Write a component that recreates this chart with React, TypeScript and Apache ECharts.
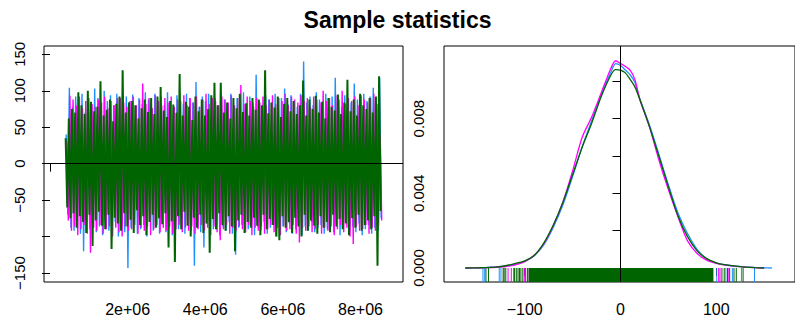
import React, { useEffect, useRef } from "react";
import * as echarts from "echarts";

// ---------- data ----------
const TITLE = "Sample statistics";

// trace plot: iteration span and local extremes (alternating high / low) per chain
const ITER_START = 404000;
const ITER_END = 8546000;

const greenHi = [35, 62, 75, 70, 98, 80, 68, 100, 85, 72, 78, 113, 66, 74, 88, 58, 82, 92, 128, 70,
  84, 86, 80, 62, 76, 88, 71, 90, 68, 92, 105, 73, 64, 86, 81, 70, 123, 66, 85, 78,
  60, 92, 72, 88, 66, 75, 94, 111, 80, 111, 70, 84, 62, 90, 76, 96, 71, 83, 66, 90,
  74, 88, 80, 128, 69, 84, 77, 92, 64, 82, 90, 72, 86, 68, 80, 114, 66, 88, 75, 93,
  70, 85, 62, 90, 78, 73, 95, 68, 84, 115, 72, 88, 66, 96, 80, 75, 90, 70, 92, 120];
const greenLo = [-60, -75, -68, -88, -72, -80, -95, -70, -113, -78, -66, -85, -90, -70, -117, -74, -82, -92, -68, -86,
  -77, -95, -64, -84, -72, -98, -80, -70, -88, -75, -83, -68, -115, -79, -135, -72, -90, -66, -85, -100,
  -74, -88, -70, -95, -82, -122, -76, -90, -68, -84, -92, -72, -86, -120, -78, -70, -95, -80, -88, -74,
  -85, -98, -70, -90, -76, -84, -100, -105, -72, -88, -80, -95, -74, -86, -100, -70, -92, -78, -85, -96,
  -72, -88, -80, -94, -70, -86, -76, -90, -82, -98, -75, -88, -70, -92, -84, -78, -90, -72, -140, -65];
const blueHi = [40, 104, 78, 92, 85, 96, 70, 88, 82, 103, 90, 75, 100, 86, 94, 80, 96, 84, 72, 92,
  85, 95, 78, 90, 82, 98, 88, 76, 96, 84, 92, 80, 98, 86, 74, 94, 88, 82, 96, 90,
  84, 112, 78, 92, 86, 96, 80, 90, 76, 94, 88, 82, 96, 78, 90, 86, 98, 80, 92, 84,
  122, 86, 78, 94, 88, 80, 96, 84, 90, 103, 82, 94, 86, 78, 96, 140, 84, 92, 80, 98,
  88, 84, 96, 80, 92, 118, 86, 78, 94, 90, 84, 110, 88, 82, 96, 86, 92, 104, 80, 118];
const blueLo = [-70, -88, -92, -80, -96, -120, -84, -90, -78, -94, -86, -98, -82, -92, -88, -80, -100, -86, -94, -143,
  -88, -82, -96, -90, -84, -100, -78, -92, -86, -96, -82, -94, -88, -98, -80, -90, -86, -96, -84, -92,
  -140, -88, -94, -115, -82, -96, -90, -84, -98, -86, -92, -80, -96, -125, -88, -84, -94, -90, -82, -98,
  -86, -92, -80, -96, -88, -84, -100, -90, -86, -94, -82, -96, -90, -84, -98, -86, -92, -80, -94, -88,
  -84, -96, -90, -82, -94, -86, -98, -88, -80, -92, -86, -94, -82, -98, -90, -84, -96, -88, -92, -75];
const magentaHi = [30, 93, 88, 80, 92, 76, 86, 90, 82, 78, 88, 84, 92, 76, 86, 80, 90, 90, 84, 78,
  86, 92, 80, 88, 110, 82, 90, 76, 94, 86, 80, 90, 84, 92, 78, 88, 86, 94, 80, 90,
  84, 92, 78, 88, 96, 82, 90, 86, 80, 92, 88, 84, 94, 80, 90, 108, 82, 92, 86, 78,
  90, 84, 92, 80, 88, 94, 82, 90, 86, 96, 80, 92, 88, 84, 94, 86, 90, 78, 92, 88,
  84, 100, 86, 90, 80, 94, 88, 100, 82, 90, 86, 92, 80, 94, 88, 84, 90, 96, 82, 40];
const magentaLo = [-78, -92, -86, -98, -90, -84, -96, -122, -88, -92, -84, -96, -90, -86, -100, -88, -94, -100, -86, -92,
  -90, -84, -96, -88, -92, -86, -98, -90, -84, -94, -88, -92, -86, -96, -90, -84, -94, -88, -92, -86,
  -96, -90, -84, -92, -88, -98, -86, -94, -105, -90, -84, -96, -88, -92, -86, -90, -94, -84, -98, -88,
  -92, -86, -96, -90, -84, -94, -88, -98, -86, -92, -90, -84, -96, -108, -88, -92, -86, -94, -90, -84,
  -96, -88, -92, -86, -98, -90, -84, -94, -88, -100, -110, -86, -92, -90, -84, -96, -88, -92, -86, -78];

// density plot (values x 1e-3)
const densX = [-162, -150, -140, -130, -120, -110, -100, -90, -80, -70, -60, -50, -40, -30, -20, -10, -5, 0, 5, 10, 15, 20,
  30, 40, 50, 60, 70, 80, 90, 100, 110, 120, 130, 140, 150, 158];
const densBlue = [0, 0.01, 0.03, 0.06, 0.1, 0.18, 0.35, 0.66, 1.25, 2.2, 3.4, 4.9, 6.5, 7.9, 9.3, 10.5, 10.95, 10.85, 10.6, 10.35, 9.95, 9.1,
  7.7, 6.1, 4.45, 2.95, 1.85, 1.0, 0.5, 0.27, 0.16, 0.1, 0.06, 0.03, 0.01, 0];
const densMagenta = [0, 0.01, 0.02, 0.04, 0.08, 0.17, 0.34, 0.68, 1.3, 2.3, 3.55, 5.2, 7.0, 8.1, 9.4, 10.7, 11.1, 10.95, 10.8, 10.6, 10.1, 9.05,
  7.6, 5.8, 4.2, 2.75, 1.45, 0.78, 0.42, 0.25, 0.15, 0.09, 0.05, 0.02, 0, null];
const densGreen = [0, 0.01, 0.02, 0.05, 0.12, 0.24, 0.38, 0.68, 1.35, 2.32, 3.54, 5.0, 6.47, 7.77, 9.2, 10.34, 10.63, 10.6, 10.45, 10.1, 9.7, 9.05,
  7.6, 6.0, 4.35, 2.8, 1.68, 0.92, 0.5, 0.28, 0.17, 0.1, 0.05, 0.02, 0, null];

// rug marks
const blueRug = [-143.6, -141.8, -126.6, -124.8, 100.5, 110, 116.8, 126.3, 139.9];
const magentaRug = [-117.4, -114, -111.6, -100.4, -95.3, 102.5, 103.9, 112.5];
const greenRug = [-140.5, -137.8, -122.5, -121.5, -119.8, -110.6, -108.8, -107, -105.5, -104, -102, -99, -97,
  105.9, 108.3, 111.7, 114, 118.5, 120.9, 128];
const greenRugDense = [-96, 97];

// axis ticks / labels
const traceXTicks = [0, 2e6, 4e6, 6e6, 8e6];
const traceXLabels = [2e6, 4e6, 6e6, 8e6];
const traceYTicks = [-150, -100, -50, 0, 50, 100, 150];
const traceYLabels = [-150, -50, 0, 50, 100, 150];
const densXTicks = [-100, 0, 100];
const densYTicks = [0, 0.002, 0.004, 0.006, 0.008, 0.01];
const densYLabels = [0, 0.004, 0.008];

const BLUE = "#1E90FF";
const MAGENTA = "#FF00FF";
const GREEN = "#006400";
const FONT = "Liberation Sans, Arial, Helvetica, sans-serif";

const TRACE_YMIN = -162.3;
const TRACE_YMAX = 161.4;
const DENS_YMIN = -0.00075;
const DENS_YMAX = 0.01189;

function interleave(hi: number[], lo: number[]) {
  const out: number[] = [];
  for (let i = 0; i < hi.length; i++) {
    out.push(hi[i], lo[i]);
  }
  return out;
}

function traceData(vals: number[], off: number) {
  const step = (ITER_END - ITER_START) / (vals.length - 1 + 0.67);
  return vals.map((v, k) => [ITER_START + (k + off) * step, v]);
}

function minusFmt(v: number) {
  return v < 0 ? "\u2212" + Math.abs(v) : String(v);
}

function rugSeries(values: number[], color: string) {
  return {
    type: "custom",
    xAxisIndex: 1,
    yAxisIndex: 1,
    silent: true,
    data: values.map((v) => [v]),
    renderItem: (params: any, api: any) => {
      const x = api.value(0);
      const p0 = api.coord([x, 0]);
      const p1 = api.coord([x, DENS_YMIN]);
      return {
        type: "line",
        shape: { x1: p0[0], y1: p0[1], x2: p1[0], y2: p1[1] },
        style: { stroke: color, lineWidth: 1 },
      };
    },
  };
}

export default function App() {
  const ref = useRef<HTMLDivElement>(null);

  useEffect(() => {
    document.body.style.margin = "0";
    if (!ref.current) return;
    const chart = echarts.init(ref.current, null, { renderer: "svg" });

    const axisLabelBase = { color: "#000", fontFamily: FONT };
    const tickBase = { show: true, inside: false, length: 8, lineStyle: { color: "#000", width: 1 } };

    const option: any = {
      animation: false,
      backgroundColor: "#fff",
      title: {
        text: TITLE,
        left: "center",
        top: 3,
        textStyle: { fontSize: 23, fontWeight: "bold", color: "#000", fontFamily: FONT },
      },
      grid: [
        { left: 44, top: 46, width: 359, height: 236, show: true, borderColor: "#000", borderWidth: 1, backgroundColor: "transparent" },
        { left: 444, top: 46, width: 360, height: 236, show: true, borderColor: "#000", borderWidth: 1, backgroundColor: "transparent" },
      ],
      xAxis: [
        {
          type: "value",
          gridIndex: 0,
          min: -154000,
          max: 9094000,
          axisLine: { show: false },
          splitLine: { show: false },
          axisTick: { ...tickBase, customValues: traceXTicks },
          axisLabel: {
            ...axisLabelBase,
            fontSize: 16,
            margin: 19,
            customValues: traceXLabels,
            formatter: (v: number) => Math.round(v / 1e6) + "e+06",
          },
        },
        {
          type: "value",
          gridIndex: 1,
          min: -184.3,
          max: 182.2,
          axisLine: { show: false },
          splitLine: { show: false },
          axisTick: { ...tickBase, customValues: densXTicks },
          axisLabel: {
            ...axisLabelBase,
            fontSize: 16,
            margin: 19,
            customValues: densXTicks,
            formatter: (v: number) => minusFmt(v),
          },
        },
      ],
      yAxis: [
        {
          type: "value",
          gridIndex: 0,
          min: TRACE_YMIN,
          max: TRACE_YMAX,
          axisLine: { show: false },
          splitLine: { show: false },
          axisTick: { ...tickBase, customValues: traceYTicks },
          axisLabel: {
            ...axisLabelBase,
            fontSize: 15,
            rotate: 90,
            margin: 17,
            customValues: traceYLabels,
            formatter: (v: number) => minusFmt(v),
          },
        },
        {
          type: "value",
          gridIndex: 1,
          min: DENS_YMIN,
          max: DENS_YMAX,
          axisLine: { show: false },
          splitLine: { show: false },
          axisTick: { ...tickBase, customValues: densYTicks },
          axisLabel: {
            ...axisLabelBase,
            fontSize: 15,
            rotate: 90,
            margin: 18,
            customValues: densYLabels,
            formatter: (v: number) => v.toFixed(3),
          },
        },
      ],
      series: [
        {
          type: "line",
          xAxisIndex: 0,
          yAxisIndex: 0,
          data: traceData(interleave(blueHi, blueLo), 0.33),
          showSymbol: false,
          lineStyle: { color: BLUE, width: 1.4 },
          silent: true,
        },
        {
          type: "line",
          xAxisIndex: 0,
          yAxisIndex: 0,
          data: traceData(interleave(magentaHi, magentaLo), 0.67),
          showSymbol: false,
          lineStyle: { color: MAGENTA, width: 1.4 },
          silent: true,
        },
        {
          type: "line",
          xAxisIndex: 0,
          yAxisIndex: 0,
          data: traceData(interleave(greenHi, greenLo), 0),
          showSymbol: false,
          lineStyle: { color: GREEN, width: 2 },
          silent: true,
          markLine: {
            silent: true,
            symbol: "none",
            label: { show: false },
            lineStyle: { color: "#000", width: 1, type: "solid" },
            data: [{ yAxis: 0 }],
          },
        },
        rugSeries(blueRug, BLUE),
        rugSeries(magentaRug, MAGENTA),
        {
          type: "custom",
          xAxisIndex: 1,
          yAxisIndex: 1,
          silent: true,
          data: [greenRugDense],
          renderItem: (params: any, api: any) => {
            const a = api.coord([api.value(0), 0]);
            const b = api.coord([api.value(1), DENS_YMIN]);
            return {
              type: "rect",
              shape: { x: a[0], y: a[1], width: b[0] - a[0], height: b[1] - a[1] },
              style: { fill: GREEN },
            };
          },
        },
        rugSeries(greenRug, GREEN),
        {
          type: "line",
          xAxisIndex: 1,
          yAxisIndex: 1,
          data: densX.map((x, i) => [x, densBlue[i] == null ? null : densBlue[i] / 1000]),
          showSymbol: false,
          smooth: 0.3,
          lineStyle: { color: BLUE, width: 1.3 },
          silent: true,
        },
        {
          type: "line",
          xAxisIndex: 1,
          yAxisIndex: 1,
          data: densX.map((x, i) => [x, densMagenta[i] == null ? null : (densMagenta[i] as number) / 1000]),
          showSymbol: false,
          smooth: 0.3,
          lineStyle: { color: MAGENTA, width: 1.3 },
          silent: true,
        },
        {
          type: "line",
          xAxisIndex: 1,
          yAxisIndex: 1,
          data: densX.map((x, i) => [x, densGreen[i] == null ? null : (densGreen[i] as number) / 1000]),
          showSymbol: false,
          smooth: 0.3,
          lineStyle: { color: GREEN, width: 1.3 },
          silent: true,
          markLine: {
            silent: true,
            symbol: "none",
            label: { show: false },
            lineStyle: { color: "#000", width: 1, type: "solid" },
            data: [{ xAxis: 0 }],
          },
        },
      ],
    };

    chart.setOption(option);
    return () => {
      chart.dispose();
    };
  }, []);

  return <div ref={ref} style={{ width: 795, height: 324 }} />;
}
